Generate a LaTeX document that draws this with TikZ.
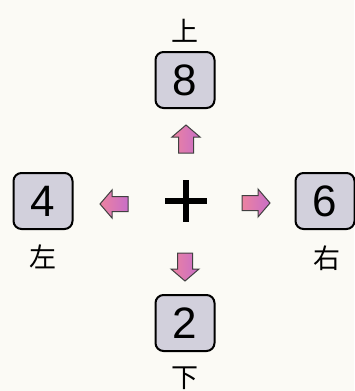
\documentclass[tikz,border=0pt]{standalone}
\usepackage{fontspec}
\setmainfont{Liberation Sans}
\newfontfamily\cjk{Noto Sans CJK JP}
\definecolor{bg}{RGB}{251,250,245}
\definecolor{boxfill}{RGB}{210,208,220}
\definecolor{arrowA}{RGB}{236,130,160}
\definecolor{arrowB}{RGB}{200,110,200}
\tikzset{
  numbox/.style={draw=black, line width=2pt, rounded corners=8pt, fill=boxfill,
    minimum width=59pt, minimum height=56pt, inner sep=0pt,
    font=\fontsize{44}{44}\selectfont},
  dirlabel/.style={font={\fontsize{27}{27}\selectfont\cjk}, inner sep=0pt},
  pinkarrow/.style={draw=black!75, line width=1pt, left color=arrowA, right color=arrowB},
  pics/dirarrow/.style={code={
    \draw[pinkarrow] (-14,-7.5) -- (2,-7.5) -- (2,-14) -- (14,0) -- (2,14) -- (2,7.5) -- (-14,7.5) -- cycle;
  }}
}
\begin{document}
\begin{tikzpicture}[x=1pt,y=-1pt]
\fill[bg] (0,0) rectangle (354,391);
\useasboundingbox (0,0) rectangle (354,391);
% boxes
\node[numbox] (b8) at (185,80) {8};
\node[numbox] (b4) at (43,201) {4};
\node[numbox] (b6) at (325,201) {6};
\node[numbox] (b2) at (185,323) {2};
% labels
\node[dirlabel] (lu) at (185,31) {上};
\node[dirlabel] (ll) at (43,257) {左};
\node[dirlabel] (lr) at (327,258) {右};
\node[dirlabel] (ld) at (185,378) {下};
% plus
\coordinate (pc) at (186,201);
\draw[line width=5.5pt] (165,201) -- (207,201);
\draw[line width=5.5pt] (186,180) -- (186,222);
% arrows
\pic[rotate=90] (au) at (186,139) {dirarrow};
\pic[rotate=-90] (ad) at (185,267) {dirarrow};
\pic[rotate=180] (al) at (114,204) {dirarrow};
\pic (ar) at (256,203) {dirarrow};
\end{tikzpicture}
\end{document}
